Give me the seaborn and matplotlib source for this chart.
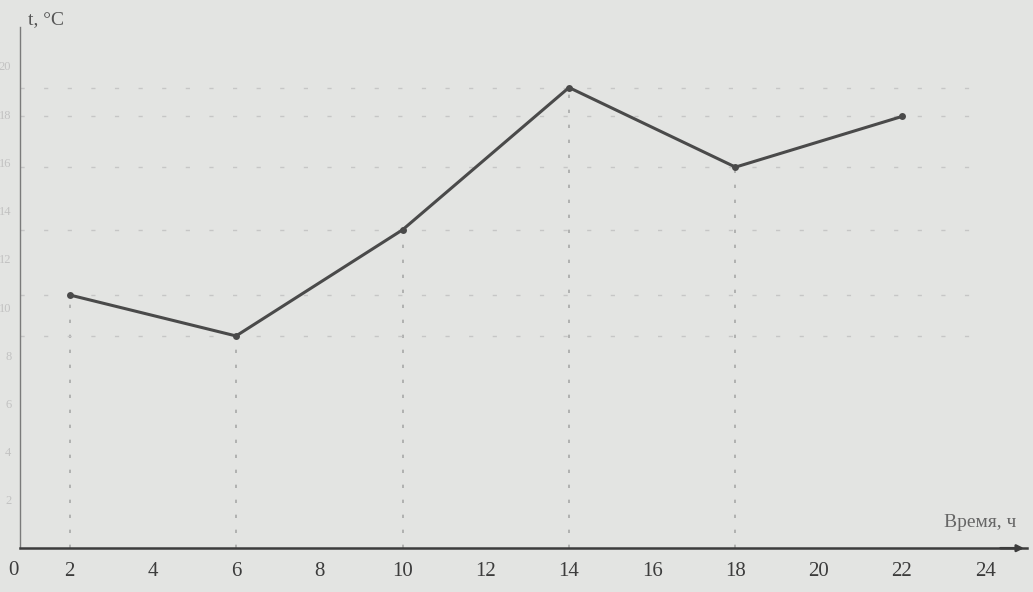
import seaborn as sns
import matplotlib.pyplot as plt
import pandas as pd

hours = [2, 6, 10, 14, 18, 22]
temps = [10.5, 8.8, 13.2, 19.1, 15.8, 17.9]
x_ticks = [2, 4, 6, 8, 10, 12, 14, 16, 18, 20, 22, 24]
y_ticks = [2, 4, 6, 8, 10, 12, 14, 16, 18, 20]

df = pd.DataFrame({'hour': hours, 'temp': temps})

sns.set_style('white')
plt.rcParams['font.family'] = ['Liberation Serif', 'DejaVu Serif']

paper = '#e3e4e2'
ink = '#3c3c3c'

fig = plt.figure(figsize=(10.33, 5.92), dpi=100, facecolor=paper)
ax = fig.add_axes([0.019, 0.074, 0.975, 0.88])
ax.set_facecolor(paper)

# faint guide lines from the axes to each point
for h, t in zip(hours[:-1], temps[:-1]):
    ax.plot([h, h], [0, t], ls=(0, (2, 7)), color='#a8a8a8', lw=1.2, zorder=1)
for t in temps:
    ax.plot([0.8, 24], [t, t], ls=(0, (3, 14)), color='#c6c6c6', lw=1.0, zorder=1)

sns.lineplot(data=df, x='hour', y='temp', color='#4a4a4a', lw=2.2, ax=ax,
             marker='o', markersize=5, markeredgewidth=0, zorder=3)

ax.set_xlim(0.8, 25.0)
ax.set_ylim(0, 21.6)
ax.set_xticks(x_ticks)
ax.set_xticklabels([str(v) for v in x_ticks], fontsize=15, color=ink)
ax.set_yticks(y_ticks)
ax.set_yticklabels([str(v) for v in y_ticks], fontsize=9, color='#c2c2c2')
ax.tick_params(axis='x', direction='in', length=9, width=1.5, color='#8a8a8a', pad=10)
ax.tick_params(axis='y', direction='inout', length=8, width=1.2, color='#8a8a8a', pad=2)
ax.set_xlabel('')
ax.set_ylabel('')

for s in ['top', 'right']:
    ax.spines[s].set_visible(False)
ax.spines['left'].set_color('#7a7a7a')
ax.spines['left'].set_linewidth(1.0)
ax.spines['bottom'].set_color(ink)
ax.spines['bottom'].set_linewidth(1.8)

ax.annotate('', xy=(25.0, 0), xytext=(24.3, 0),
            arrowprops=dict(arrowstyle='-|>', color=ink, lw=1.8), annotation_clip=False)
ax.text(0.65, -0.55, '0', fontsize=15, color=ink, ha='center', va='top', clip_on=False)
ax.text(24.75, 0.7, 'Время, ч', fontsize=14, color='#666666', ha='right', va='bottom')
ax.text(1.0, 21.9, 't, °C', fontsize=14, color='#555555', ha='left', va='center', clip_on=False)

sns.despine(ax=ax)
fig.savefig('out.png', dpi=100, facecolor=paper)
